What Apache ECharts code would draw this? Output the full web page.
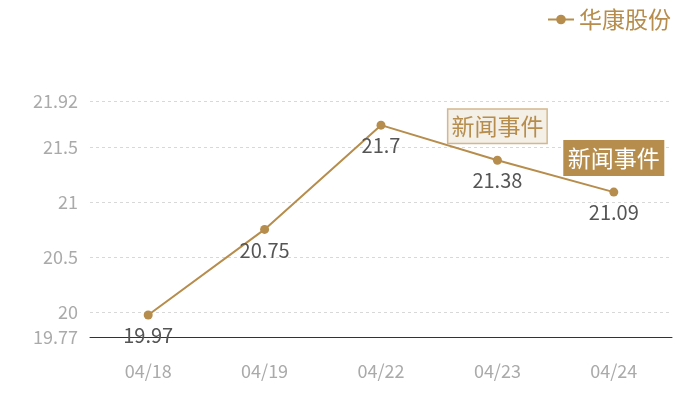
<!DOCTYPE html>
<html>
<head>
<meta charset="utf-8">
<script src="https://cdn.jsdelivr.net/npm/echarts@6/dist/echarts.min.js"></script>
<style>
  html, body { margin: 0; padding: 0; background: #fff; }
  #chart { width: 700px; height: 400px; }
</style>
</head>
<body>
<div id="chart"></div>
<script>
var chart = echarts.init(document.getElementById('chart'));

// 日期
var dates = ['04/18', '04/19', '04/22', '04/23', '04/24'];
// 收盘价
var prices = [19.97, 20.75, 21.7, 21.38, 21.09];
// y轴刻度
var yTicks = [19.77, 20, 20.5, 21, 21.5, 21.92];
// 新闻事件
var eventDates = ['04/23', '04/24'];
var eventText = '新闻事件';

var gold = '#b68d4c';
var font = '"Noto Sans CJK SC", "Noto Sans", sans-serif';

var eventStyles = [
    { backgroundColor: '#f4efe7', borderColor: '#d2b88f', color: gold },
    { backgroundColor: gold, borderColor: gold, color: '#fff' }
];

var markData = eventDates.map(function (d, i) {
    var idx = dates.indexOf(d);
    return {
        coord: [d, prices[idx]],
        symbol: 'rect',
        symbolSize: [0, 0],
        label: {
            show: true,
            formatter: eventText,
            position: 'inside',
            offset: [0, -34],
            fontSize: 23,
            fontFamily: font,
            padding: [6, 3, 4, 3],
            borderWidth: 1.5,
            color: eventStyles[i].color,
            backgroundColor: eventStyles[i].backgroundColor,
            borderColor: eventStyles[i].borderColor
        }
    };
});

var option = {
    textStyle: { fontFamily: font },
    legend: {
        right: 24,
        top: 3,
        itemWidth: 26,
        itemHeight: 12,
        itemGap: 6,
        textStyle: { color: gold, fontSize: 23, fontFamily: font },
        data: ['华康股份']
    },
    grid: { left: 90, right: 28, top: 101, bottom: 63 },
    xAxis: {
        type: 'category',
        data: dates,
        axisLine: { lineStyle: { color: '#333' } },
        axisTick: { show: false },
        axisLabel: { color: '#aaa', fontSize: 18, margin: 25 }
    },
    yAxis: {
        type: 'value',
        min: 19.77,
        max: 21.92,
        axisLine: { show: false },
        axisTick: { show: false, customValues: yTicks },
        axisLabel: { color: '#aaa', fontSize: 18, margin: 12, customValues: yTicks },
        splitLine: { lineStyle: { color: '#d8d8d8', type: [3, 3] } }
    },
    series: [{
        name: '华康股份',
        type: 'line',
        data: prices,
        symbol: 'circle',
        symbolSize: 9,
        itemStyle: { color: gold },
        lineStyle: { color: gold, width: 2 },
        label: {
            show: true,
            position: 'bottom',
            distance: 6,
            color: '#555',
            fontSize: 20
        },
        markPoint: { data: markData }
    }]
};

chart.setOption(option);
</script>
</body>
</html>
